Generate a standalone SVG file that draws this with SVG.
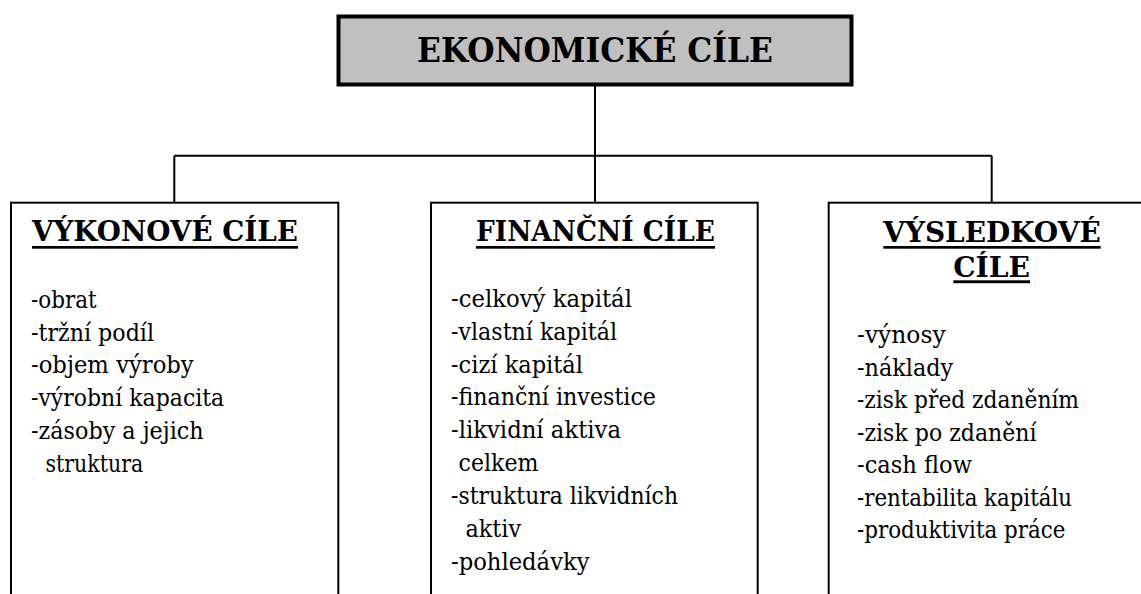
<svg xmlns="http://www.w3.org/2000/svg" width="1141" height="594" viewBox="0 0 1141 594">
  <style>
    text { font-family: "DejaVu Serif", "Liberation Serif", serif; fill: #000; }
    .title { font-weight: bold; font-size: 34px; }
    .head { font-weight: bold; font-size: 28.5px; }
    .item { font-size: 24.5px; }
    .box { fill: #fff; stroke: #000; stroke-width: 2; }
    .rule { fill: #000; }
    .link { fill: none; stroke: #000; stroke-width: 2; }
  </style>
  <rect width="1141" height="594" fill="#fff"/>

  <!-- connectors: trunk from the root, bus bar, and drops to the three boxes -->
  <g id="connectors">
    <line class="link" x1="595" y1="86" x2="595" y2="202"/>
    <line class="link" x1="174.3" y1="155.7" x2="991.7" y2="155.7"/>
    <line class="link" x1="174.3" y1="155.7" x2="174.3" y2="202"/>
    <line class="link" x1="991.7" y1="155.7" x2="991.7" y2="202"/>
  </g>

  <!-- root node -->
  <g id="root">
    <rect x="338.5" y="16.5" width="513" height="68" fill="#c0c0c0" stroke="#000" stroke-width="4"/>
    <text class="title" x="595" y="62" text-anchor="middle" textLength="356" lengthAdjust="spacingAndGlyphs">EKONOMICKÉ CÍLE</text>
  </g>

  <!-- performance goals -->
  <g id="vykonove">
    <rect class="box" x="11" y="202.7" width="327.3" height="420"/>
    <text class="head" x="32" y="240.5" textLength="266" lengthAdjust="spacingAndGlyphs">VÝKONOVÉ CÍLE</text>
    <rect class="rule" x="32" y="246" width="266" height="2.7"/>
    <text class="item" x="31" y="307.7" textLength="65.7" lengthAdjust="spacingAndGlyphs">-obrat</text>
    <text class="item" x="31" y="340.5" textLength="123" lengthAdjust="spacingAndGlyphs">-tržní podíl</text>
    <text class="item" x="31" y="373.3" textLength="162.7" lengthAdjust="spacingAndGlyphs">-objem výroby</text>
    <text class="item" x="31" y="406.1" textLength="193.2" lengthAdjust="spacingAndGlyphs">-výrobní kapacita</text>
    <text class="item" x="31" y="438.9" textLength="172.6" lengthAdjust="spacingAndGlyphs">-zásoby a jejich</text>
    <text class="item" x="45.5" y="471.7" textLength="97.8" lengthAdjust="spacingAndGlyphs">struktura</text>
  </g>

  <!-- financial goals -->
  <g id="financni">
    <rect class="box" x="431" y="202.7" width="326.7" height="420"/>
    <text class="head" x="595.5" y="240.5" text-anchor="middle" textLength="239" lengthAdjust="spacingAndGlyphs">FINANČNÍ CÍLE</text>
    <rect class="rule" x="476" y="246" width="239" height="2.7"/>
    <text class="item" x="451" y="306.8" textLength="181" lengthAdjust="spacingAndGlyphs">-celkový kapitál</text>
    <text class="item" x="451" y="339.7" textLength="166" lengthAdjust="spacingAndGlyphs">-vlastní kapitál</text>
    <text class="item" x="451" y="372.5" textLength="132" lengthAdjust="spacingAndGlyphs">-cizí kapitál</text>
    <text class="item" x="451" y="405.4" textLength="205" lengthAdjust="spacingAndGlyphs">-finanční investice</text>
    <text class="item" x="451" y="438.2" textLength="170" lengthAdjust="spacingAndGlyphs">-likvidní aktiva</text>
    <text class="item" x="458.5" y="471.1" textLength="80" lengthAdjust="spacingAndGlyphs">celkem</text>
    <text class="item" x="451" y="503.9" textLength="227" lengthAdjust="spacingAndGlyphs">-struktura likvidních</text>
    <text class="item" x="465.5" y="536.8" textLength="55.5" lengthAdjust="spacingAndGlyphs">aktiv</text>
    <text class="item" x="451" y="569.6" textLength="138.5" lengthAdjust="spacingAndGlyphs">-pohledávky</text>
  </g>

  <!-- result goals -->
  <g id="vysledkove">
    <rect class="box" x="828.7" y="202.7" width="340" height="420"/>
    <text class="head" x="992" y="241.5" text-anchor="middle" textLength="217.4" lengthAdjust="spacingAndGlyphs">VÝSLEDKOVÉ</text>
    <rect class="rule" x="883.3" y="246" width="217.4" height="2.7"/>
    <text class="head" x="991.6" y="276.7" text-anchor="middle" textLength="76.7" lengthAdjust="spacingAndGlyphs">CÍLE</text>
    <rect class="rule" x="953.3" y="280.3" width="76.7" height="2.9"/>
    <text class="item" x="857" y="343.3" textLength="88.6" lengthAdjust="spacingAndGlyphs">-výnosy</text>
    <text class="item" x="857" y="375.8" textLength="96.2" lengthAdjust="spacingAndGlyphs">-náklady</text>
    <text class="item" x="857" y="408.3" textLength="222" lengthAdjust="spacingAndGlyphs">-zisk před zdaněním</text>
    <text class="item" x="857" y="440.8" textLength="179.5" lengthAdjust="spacingAndGlyphs">-zisk po zdanění</text>
    <text class="item" x="857" y="473.3" textLength="115" lengthAdjust="spacingAndGlyphs">-cash flow</text>
    <text class="item" x="857" y="505.8" textLength="215" lengthAdjust="spacingAndGlyphs">-rentabilita kapitálu</text>
    <text class="item" x="857" y="538.3" textLength="208.5" lengthAdjust="spacingAndGlyphs">-produktivita práce</text>
  </g>
</svg>
